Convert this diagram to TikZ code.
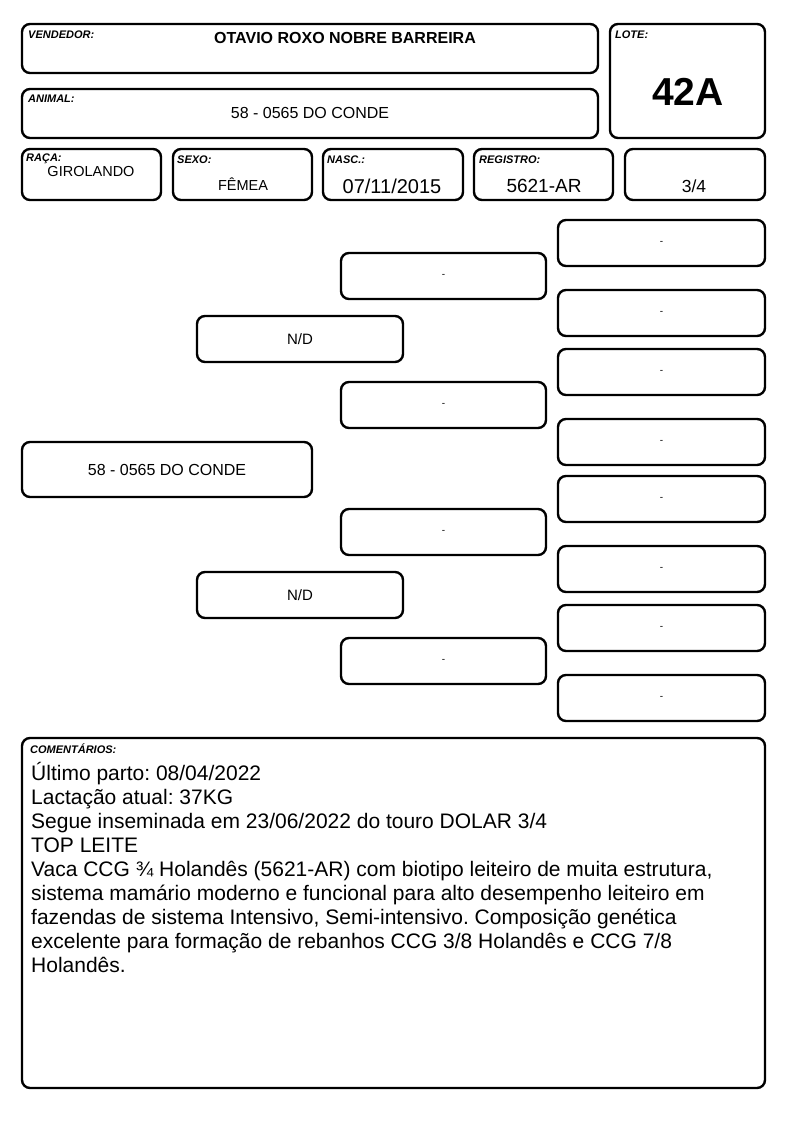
\documentclass[tikz,border=0pt]{standalone}
\usepackage{fontspec}
\setmainfont{Liberation Sans}
\frenchspacing
\begin{document}
\begin{tikzpicture}[x=1pt,y=-1pt,
    box/.style={draw,line width=2.4pt,rounded corners=8pt,inner sep=0pt},
    tag/.style={anchor=north west,inner sep=0pt,font=\fontsize{11}{12}\selectfont\bfseries\itshape},
    val/.style={inner sep=0pt,font=\fontsize{15}{16}\selectfont},
    ped/.style={box,minimum height=46pt}]
    \useasboundingbox (0,0) rectangle (794,1123);

    % header
    \node[box,minimum width=576pt,minimum height=49pt] (vend) at (310,48.5) {};
    \node[box,minimum width=576pt,minimum height=49pt] (anim) at (310,113.5) {};
    \node[box,minimum width=155pt,minimum height=114pt] (lote) at (687.5,81) {};
    \node[box,minimum width=139pt,minimum height=51pt] (raca) at (91.5,174.5) {};
    \node[box,minimum width=139pt,minimum height=51pt] (sexo) at (242.5,174.5) {};
    \node[box,minimum width=140pt,minimum height=51pt] (nasc) at (393,174.5) {};
    \node[box,minimum width=139pt,minimum height=51pt] (reg) at (543.5,174.5) {};
    \node[box,minimum width=140pt,minimum height=51pt] (frac) at (695,174.5) {};

    \node[tag] (vendtag) at (28,31) {VENDEDOR:};
    \node[tag] (animtag) at (28,95) {ANIMAL:};
    \node[tag] (lotetag) at (615,31) {LOTE:};
    \node[tag] (racatag) at (26,154) {RAÇA:};
    \node[tag] (sexotag) at (177,156) {SEXO:};
    \node[tag] (nasctag) at (327,156) {NASC.:};
    \node[tag] (regtag) at (479,156) {REGISTRO:};

    \node[val,font=\fontsize{16}{18}\selectfont\bfseries] (vendval) at (345,38) {OTAVIO ROXO NOBRE BARREIRA};
    \node[val,font=\fontsize{16}{18}\selectfont] (animval) at (310,113) {58 - 0565 DO CONDE};
    \node[val,font=\fontsize{39}{40}\selectfont\bfseries] (loteval) at (688,92) {42A};
    \node[val,font=\fontsize{14.5}{16}\selectfont] (racaval) at (91,172) {GIROLANDO};
    \node[val,font=\fontsize{14.5}{16}\selectfont] (sexoval) at (243,184) {FÊMEA};
    \node[val,font=\fontsize{20}{22}\selectfont] (nascval) at (392,186) {07/11/2015};
    \node[val,font=\fontsize{19}{20}\selectfont] (regval) at (544,186) {5621-AR};
    \node[val,font=\fontsize{17.5}{20}\selectfont] (fracval) at (694,186) {3/4};

    % pedigree
    \node[ped,minimum width=290pt,minimum height=55pt,val,font=\fontsize{16}{18}\selectfont] (p0) at (167,469.5) {58 - 0565 DO CONDE};
    \node[ped,minimum width=206pt,val] (p1) at (300,339) {N/D};
    \node[ped,minimum width=206pt,val] (p2) at (300,595) {N/D};

    \node[ped,minimum width=205pt] (p3) at (443.5,276) {-};
    \node[ped,minimum width=205pt] (p4) at (443.5,405) {-};
    \node[ped,minimum width=205pt] (p5) at (443.5,532) {-};
    \node[ped,minimum width=205pt] (p6) at (443.5,661) {-};

    \node[ped,minimum width=207pt] (p7) at (661.5,243) {-};
    \node[ped,minimum width=207pt] (p8) at (661.5,313) {-};
    \node[ped,minimum width=207pt] (p9) at (661.5,372) {-};
    \node[ped,minimum width=207pt] (p10) at (661.5,442) {-};
    \node[ped,minimum width=207pt] (p11) at (661.5,499) {-};
    \node[ped,minimum width=207pt] (p12) at (661.5,569) {-};
    \node[ped,minimum width=207pt] (p13) at (661.5,628) {-};
    \node[ped,minimum width=207pt] (p14) at (661.5,698) {-};

    % comments
    \node[box,minimum width=743pt,minimum height=350pt] (com) at (393.5,913) {};
    \node[tag] (comtag) at (30,744) {COMENTÁRIOS:};
    \node[anchor=north west,inner sep=0pt,align=left,font=\fontsize{21}{24}\selectfont] (comtxt) at (31,762)
        {Último parto: 08/04/2022\\
        Lactação atual: 37KG\\
        Segue inseminada em 23/06/2022 do touro DOLAR 3/4\\
        TOP LEITE\\
        Vaca CCG ¾ Holandês (5621-AR) com biotipo leiteiro de muita estrutura,\\
        sistema mamário moderno e funcional para alto desempenho leiteiro em\\
        fazendas de sistema Intensivo, Semi-intensivo. Composição genética\\
        excelente para formação de rebanhos CCG 3/8 Holandês e CCG 7/8\\
        Holandês.};
\end{tikzpicture}
\end{document}
